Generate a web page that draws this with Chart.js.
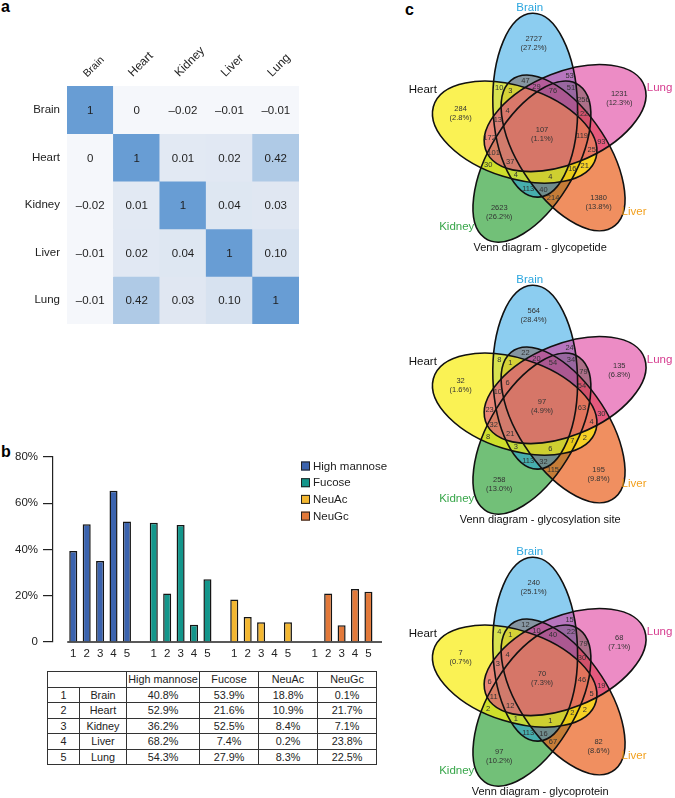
<!DOCTYPE html>
<html>
<head>
<meta charset="utf-8">
<title>Glycosylation across mouse tissues</title>
<script src="https://cdn.jsdelivr.net/npm/chart.js@4.4.1/dist/chart.umd.min.js"></script>
<style>
  html, body { margin: 0; padding: 0; background: #fff; }
  #page { position: relative; width: 675px; height: 798px; overflow: hidden;
          font-family: "Liberation Sans", Arial, Helvetica, sans-serif; color: #222; }
  .panel { position: absolute; }
  .tag { position: absolute; font-weight: bold; font-size: 16px; line-height: 16px; color: #000; }
  #glycanTable { position: absolute; left: 47px; top: 671px; border-collapse: collapse;
                 table-layout: fixed; font-size: 10.8px; color: #222; }
  #glycanTable td { border: 1px solid #333; height: 14.5px; line-height: 14px; padding: 0; text-align: center; }
</style>
</head>
<body>
<div id="page">
  <div class="tag" style="left:1px;top:-1px">a</div>
  <div class="tag" style="left:1px;top:444px">b</div>
  <div class="tag" style="left:405px;top:2px">c</div>
  <div class="panel" style="left:0;top:0;width:340px;height:340px"><canvas id="heatChart"></canvas></div>
  <div class="panel" style="left:0;top:440px;width:390px;height:225px"><canvas id="barChart"></canvas></div>
  <table id="glycanTable"></table>
  <div class="panel" style="left:400px;top:0;width:275px;height:254px"><canvas id="venn1"></canvas></div>
  <div class="panel" style="left:400px;top:272px;width:275px;height:254px"><canvas id="venn2"></canvas></div>
  <div class="panel" style="left:400px;top:544px;width:275px;height:254px"><canvas id="venn3"></canvas></div>
</div>
<script>
// ===========================================================
//                         DATA
// ===========================================================

// --- a: correlation between tissues
const tissues = ['Brain', 'Heart', 'Kidney', 'Liver', 'Lung'];
const corrBrain  = [1, 0, -0.02, -0.01, -0.01];
const corrHeart  = [0, 1, 0.01, 0.02, 0.42];
const corrKidney = [-0.02, 0.01, 1, 0.04, 0.03];
const corrLiver  = [-0.01, 0.02, 0.04, 1, 0.10];
const corrLung   = [-0.01, 0.42, 0.03, 0.10, 1];

// --- b: glycan types per tissue (bars as drawn, table as printed)
const tickNumbers = ['1', '2', '3', '4', '5'];
const glycanTypes = ['High mannose', 'Fucose', 'NeuAc', 'NeuGc'];
const barHighMannose = [39.3, 50.9, 35.0, 65.4, 52.1];
const barFucose      = [51.6, 21.0, 50.6, 7.5, 27.1];
const barNeuAc       = [18.4, 10.8, 8.5, 0.3, 8.5];
const barNeuGc       = [0.1, 21.0, 7.2, 22.9, 21.7];

const tblHighMannose = [40.8, 52.9, 36.2, 68.2, 54.3];
const tblFucose      = [53.9, 21.6, 52.5, 7.4, 27.9];
const tblNeuAc       = [18.8, 10.9, 8.4, 0.2, 8.3];
const tblNeuGc       = [0.1, 21.7, 7.1, 23.8, 22.5];

// --- c: five-set Venn diagrams (sets clockwise from the top)
const vennSets = ['Brain', 'Lung', 'Liver', 'Kidney', 'Heart'];
const vennRegions = [
  'Brain', 'Lung', 'Liver', 'Kidney', 'Heart',
  'Brain&Lung', 'Lung&Liver', 'Liver&Kidney', 'Kidney&Heart', 'Heart&Brain',
  'Brain&Liver', 'Lung&Kidney', 'Liver&Heart', 'Kidney&Brain', 'Heart&Lung',
  'Brain&Lung&Liver', 'Lung&Liver&Kidney', 'Liver&Kidney&Heart', 'Kidney&Heart&Brain', 'Heart&Brain&Lung',
  'Brain&Lung&Kidney', 'Lung&Liver&Heart', 'Liver&Kidney&Brain', 'Kidney&Heart&Lung', 'Heart&Brain&Liver',
  'Brain&Lung&Liver&Kidney', 'Lung&Liver&Kidney&Heart', 'Liver&Kidney&Heart&Brain',
  'Kidney&Heart&Brain&Lung', 'Heart&Brain&Lung&Liver',
  'All'
];
const glycopeptideCounts = [2727, 1231, 1380, 2623, 284, 53, 93, 214, 30, 10, 47, 256, 21, 113, 172,
  29, 122, 16, 4, 13, 51, 25, 40, 101, 3, 76, 119, 4, 37, 4, 107];
const glycopeptidePercents = [27.2, 12.3, 13.8, 26.2, 2.8, 1.1];   // single tissues, then all five
const glycositeCounts = [564, 135, 195, 258, 32, 24, 30, 115, 8, 8, 22, 79, 2, 113, 23,
  20, 54, 7, 3, 10, 34, 4, 32, 32, 1, 54, 63, 6, 21, 6, 97];
const glycositePercents = [28.4, 6.8, 9.8, 13.0, 1.6, 4.9];
const glycoproteinCounts = [240, 68, 82, 97, 7, 15, 19, 67, 2, 4, 12, 79, 2, 113, 6,
  10, 30, 2, 1, 3, 22, 5, 16, 11, 1, 40, 46, 1, 12, 4, 70];
const glycoproteinPercents = [25.1, 7.1, 8.6, 10.2, 0.7, 7.3];


// ===========================================================
//                        SETUP
// ===========================================================
const FONT = '"Liberation Sans", Arial, Helvetica, sans-serif';
Chart.defaults.font.family = FONT;
Chart.defaults.color = '#222';
Chart.defaults.animation = false;


// ===========================================================
//                  a -> CORRELATION HEATMAP
// ===========================================================
const corrRows = [corrBrain, corrHeart, corrKidney, corrLiver, corrLung];

function corrColor(v) {
  if (v <= 0) return 'rgb(245,247,251)';
  const t = (v - 0.01) / 0.99;
  const lo = [226, 233, 243], hi = [104, 157, 212];
  return 'rgb(' + lo.map((l, i) => Math.round(l + (hi[i] - l) * t)).join(',') + ')';
}

function corrText(v) {
  if (v === 1) return '1';
  if (v === 0) return '0';
  return (v < 0 ? '\u2013' : '') + Math.abs(v).toFixed(2);
}

const heatLabels = {
  id: 'heatLabels',
  afterDatasetsDraw(chart) {
    const ctx = chart.ctx;
    ctx.save();
    ctx.font = '11.5px ' + FONT;
    ctx.fillStyle = '#1e1e1e';
    ctx.textAlign = 'center';
    ctx.textBaseline = 'middle';
    corrRows.forEach((row, r) => {
      chart.getDatasetMeta(r).data.forEach((bar, c) => {
        const p = bar.getProps(['x', 'y', 'base'], true);
        ctx.fillText(corrText(row[c]), p.x, (p.y + p.base) / 2 + 1);
      });
    });
    ctx.restore();
  }
};

new Chart(document.getElementById('heatChart'), {
  type: 'bar',
  data: {
    labels: tissues,
    datasets: corrRows.map((row, r) => ({
      label: tissues[r],
      data: row.map(() => [r, r + 1]),
      backgroundColor: row.map(corrColor),
      borderWidth: 0,
      yAxisID: 'yv',
      grouped: false,
      barPercentage: 1,
      categoryPercentage: 1
    }))
  },
  options: {
    responsive: true,
    maintainAspectRatio: false,
    events: [],
    layout: { padding: { top: 0, right: 41, bottom: 16, left: 0 } },
    plugins: { legend: { display: false }, tooltip: { enabled: false } },
    scales: {
      x: {
        position: 'top',
        grid: { display: false, drawTicks: false },
        border: { display: false },
        ticks: {
          minRotation: 45, maxRotation: 45, padding: 6, labelOffset: 4,
          font: c => ({ size: c.index === 0 ? 10.5 : 12, family: FONT })
        },
        afterFit: s => { s.height = 86; }
      },
      y: {
        type: 'category',
        labels: tissues,
        offset: true,
        position: 'left',
        grid: { display: false, drawTicks: false },
        border: { display: false },
        ticks: { padding: 7, font: { size: 11.5 } },
        afterFit: s => { s.width = 67; }
      },
      yv: { type: 'linear', min: 0, max: 5, reverse: true, display: false }
    }
  },
  plugins: [heatLabels]
});


// ===========================================================
//                  b -> GLYCAN TYPE BARS
// ===========================================================
const barSeries = [barHighMannose, barFucose, barNeuAc, barNeuGc];
const barColors = ['#3b63ae', '#13968b', '#f3b731', '#e2793a'];
const GROUP_STEP = tickNumbers.length + 1;

const barExtras = {
  id: 'barExtras',
  afterDatasetsDraw(chart) {
    const { ctx, chartArea } = chart;
    const xs = chart.scales.x, ys = chart.scales.y;
    ctx.save();
    // detached baseline
    const y0 = ys.getPixelForValue(0);
    ctx.strokeStyle = '#222';
    ctx.lineWidth = 1.3;
    ctx.beginPath();
    ctx.moveTo(xs.getPixelForValue(-0.45), y0);
    ctx.lineTo(chartArea.right, y0);
    ctx.stroke();
    // legend box
    ctx.font = '11.5px ' + FONT;
    ctx.textBaseline = 'middle';
    ctx.textAlign = 'left';
    chart.data.datasets.forEach((ds, i) => {
      const x = chartArea.left + 248;
      const y = chartArea.top + 9 + i * 16.7;
      ctx.fillStyle = ds.backgroundColor;
      ctx.fillRect(x, y - 4.5, 9, 9);
      ctx.lineWidth = 1;
      ctx.strokeStyle = '#222';
      ctx.strokeRect(x + 0.5, y - 4, 8, 8);
      ctx.fillStyle = '#222';
      ctx.fillText(ds.label, x + 12, y + 0.5);
    });
    ctx.restore();
  }
};

new Chart(document.getElementById('barChart'), {
  type: 'bar',
  data: {
    datasets: barSeries.map((vals, g) => ({
      label: glycanTypes[g],
      data: vals.map((v, i) => ({ x: g * GROUP_STEP + i, y: v })),
      backgroundColor: barColors[g],
      borderColor: '#151515',
      borderWidth: 1.5,
      grouped: false,
      barPercentage: 0.6,
      categoryPercentage: 1
    }))
  },
  options: {
    responsive: true,
    maintainAspectRatio: false,
    events: [],
    layout: { padding: { top: 17, right: 8, bottom: 0, left: 0 } },
    plugins: { legend: { display: false }, tooltip: { enabled: false } },
    scales: {
      x: {
        type: 'linear',
        min: -1,
        max: glycanTypes.length * GROUP_STEP - 1.5,
        grid: { display: false },
        border: { display: false },
        ticks: {
          stepSize: 1, autoSkip: false, maxRotation: 0, includeBounds: false,
          padding: -3, font: { size: 11.5 },
          callback: v => (v >= 0 && v % GROUP_STEP < tickNumbers.length) ? tickNumbers[v % GROUP_STEP] : ''
        },
        afterFit: s => { s.height = 23; }
      },
      y: {
        min: 0,
        max: 80,
        ticks: { stepSize: 20, padding: 5, font: { size: 11.5 },
                 callback: v => v === 0 ? '0' : v + '%' },
        grid: { drawOnChartArea: false, drawTicks: true, tickLength: 10, color: '#222', lineWidth: 1.2 },
        border: { display: true, color: '#222', width: 1.2 },
        afterFit: s => { s.width = 53; }
      }
    }
  },
  plugins: [barExtras]
});

// table under the bars
(function buildTable() {
  const tbl = document.getElementById('glycanTable');
  const widths = [32, 47, 73, 59, 59, 59];
  let html = '<colgroup>' + widths.map(w => '<col style="width:' + w + 'px">').join('') + '</colgroup>';
  html += '<tr><td colspan="2"></td>' + glycanTypes.map(t => '<td>' + t + '</td>').join('') + '</tr>';
  const cols = [tblHighMannose, tblFucose, tblNeuAc, tblNeuGc];
  tissues.forEach((t, i) => {
    html += '<tr><td>' + tickNumbers[i] + '</td><td>' + t + '</td>' +
      cols.map(c => '<td>' + c[i].toFixed(1) + '%</td>').join('') + '</tr>';
  });
  tbl.innerHTML = html;
})();


// ===========================================================
//                  c -> FIVE-SET VENN DIAGRAMS
// ===========================================================
// one ellipse (Brain, pointing up) in model units, y downwards; the others turn by 72 degrees
const ELLIPSE = { cx: -7.4, cy: -28.8, a: 92, b: 46, angle: -92 };
const vennFill = ['rgba(25,155,225,0.5)', 'rgba(220,45,150,0.55)', 'rgba(233,96,28,0.7)',
                  'rgba(20,150,30,0.6)', 'rgba(248,236,12,0.7)'];
const vennPaintOrder = [3, 2, 0, 4, 1];   // Kidney, Liver, Brain, Heart, Lung
const vennSetColors = ['#2ba6df', '#d63c8f', '#f2a01e', '#38a64a', '#111111'];
const vennCatAngle = [-6, 70, 128, 225, 289];
const vennCatDist = [127, 136, 127, 131, 137];

const ellipses = vennSets.map((_, k) => {
  const t = k * 72 * Math.PI / 180;
  const rot = ELLIPSE.angle * Math.PI / 180 + t;
  return {
    cx: ELLIPSE.cx * Math.cos(t) - ELLIPSE.cy * Math.sin(t),
    cy: ELLIPSE.cx * Math.sin(t) + ELLIPSE.cy * Math.cos(t),
    a: ELLIPSE.a, b: ELLIPSE.b, rot, c: Math.cos(rot), s: Math.sin(rot)
  };
});

function maskOf(name) {
  if (name === 'All') return (1 << vennSets.length) - 1;
  return name.split('&').reduce((m, s) => m | (1 << vennSets.indexOf(s)), 0);
}

// label anchor of each region = its most interior point
const regionAnchor = (function () {
  const best = {};
  for (let y = -130; y <= 125; y += 1.5) {
    for (let x = -150; x <= 150; x += 1.5) {
      let mask = 0, dmin = Infinity;
      ellipses.forEach((e, k) => {
        const dx = x - e.cx, dy = y - e.cy;
        const u = dx * e.c + dy * e.s, v = -dx * e.s + dy * e.c;
        const r = Math.hypot(u / e.a, v / e.b);
        if (r < 1) mask |= 1 << k;
        const g = Math.hypot(u / (e.a * e.a), v / (e.b * e.b)) / Math.max(r, 1e-6);
        const d = Math.abs(r - 1) / Math.max(g, 1e-6);
        if (d < dmin) dmin = d;
      });
      if (mask && (!best[mask] || dmin > best[mask].d)) best[mask] = { x, y, d: dmin };
    }
  }
  return vennRegions.map(n => ({ x: best[maskOf(n)].x, y: best[maskOf(n)].y }));
})();

function ellipsePath(ctx, e, ox, oy, kx, ky) {
  ctx.save();
  ctx.translate(ox, oy);
  ctx.scale(kx, ky);
  ctx.beginPath();
  ctx.ellipse(e.cx, e.cy, e.a, e.b, e.rot, 0, Math.PI * 2);
  ctx.restore();
}

function vennPlugin(title, counts, percents) {
  return {
    id: 'venn',
    beforeDatasetsDraw(chart) {
      const ctx = chart.ctx, xs = chart.scales.x, ys = chart.scales.y;
      const ox = xs.getPixelForValue(0), oy = ys.getPixelForValue(0);
      const kx = xs.getPixelForValue(1) - ox, ky = ys.getPixelForValue(1) - oy;
      ctx.save();
      vennPaintOrder.forEach(k => {
        ellipsePath(ctx, ellipses[k], ox, oy, kx, ky);
        ctx.fillStyle = vennFill[k];
        ctx.fill();
      });
      ctx.strokeStyle = '#111';
      ctx.lineWidth = 1.6;
      ellipses.forEach(e => {
        ellipsePath(ctx, e, ox, oy, kx, ky);
        ctx.stroke();
      });
      ctx.restore();
    },
    afterDatasetsDraw(chart) {
      const ctx = chart.ctx, xs = chart.scales.x, ys = chart.scales.y;
      ctx.save();
      ctx.textAlign = 'center';
      ctx.textBaseline = 'middle';
      // region counts
      ctx.font = '7.5px ' + FONT;
      ctx.fillStyle = '#333';
      const pts = chart.getDatasetMeta(0).data;
      const nSets = vennSets.length;
      counts.forEach((n, i) => {
        const p = pts[i];
        let pi = -1;
        if (i < nSets) pi = i;
        if (i === counts.length - 1) pi = nSets;
        if (pi >= 0) {
          ctx.fillText(String(n), p.x, p.y - 4.5);
          ctx.fillText('(' + percents[pi].toFixed(1) + '%)', p.x, p.y + 4.5);
        } else {
          ctx.fillText(String(n), p.x, p.y);
        }
      });
      // set names
      ctx.font = '11.5px ' + FONT;
      vennSets.forEach((s, k) => {
        const t = vennCatAngle[k] * Math.PI / 180;
        ctx.fillStyle = vennSetColors[k];
        ctx.fillText(s, xs.getPixelForValue(vennCatDist[k] * Math.sin(t)),
                        ys.getPixelForValue(-vennCatDist[k] * Math.cos(t)));
      });
      // caption
      ctx.font = '11px ' + FONT;
      ctx.fillStyle = '#111';
      ctx.fillText(title, xs.getPixelForValue(-2), ys.getPixelForValue(114));
      ctx.restore();
    }
  };
}

function drawVenn(id, title, counts, percents) {
  new Chart(document.getElementById(id), {
    type: 'scatter',
    data: { datasets: [{ data: regionAnchor, pointRadius: 0, pointHoverRadius: 0 }] },
    options: {
      responsive: true,
      maintainAspectRatio: false,
      events: [],
      layout: { padding: 0 },
      plugins: { legend: { display: false }, tooltip: { enabled: false } },
      scales: {
        x: { type: 'linear', display: false, min: -142 / 0.92, max: 133 / 0.92 },
        y: { type: 'linear', display: false, min: -134, max: 120, reverse: true }
      }
    },
    plugins: [vennPlugin(title, counts, percents)]
  });
}

drawVenn('venn1', 'Venn diagram - glycopetide', glycopeptideCounts, glycopeptidePercents);
drawVenn('venn2', 'Venn diagram - glycosylation site', glycositeCounts, glycositePercents);
drawVenn('venn3', 'Venn diagram - glycoprotein', glycoproteinCounts, glycoproteinPercents);
</script>
</body>
</html>
